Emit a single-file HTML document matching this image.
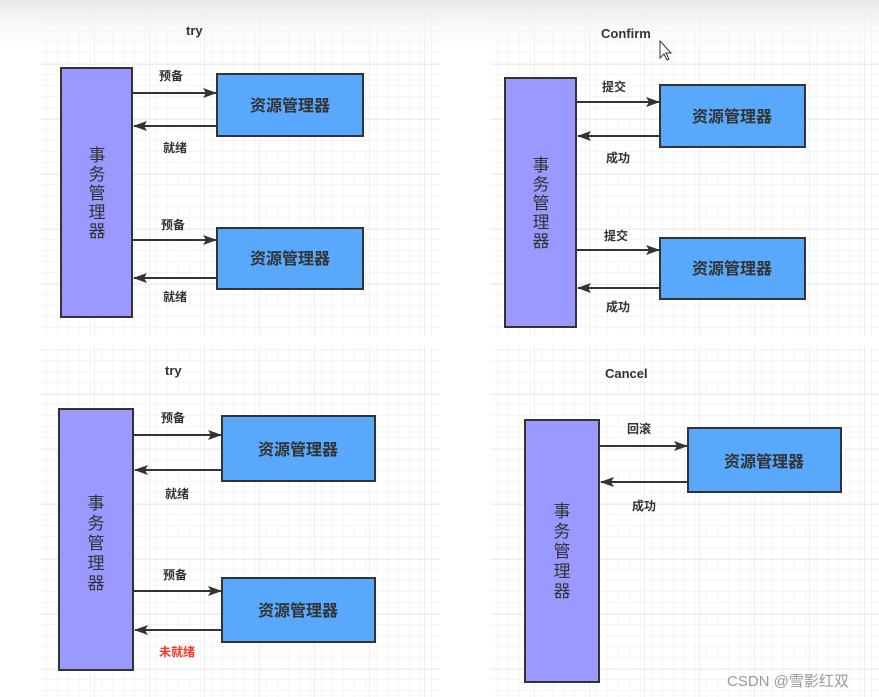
<!DOCTYPE html>
<html><head><meta charset="utf-8"><style>
html,body{margin:0;padding:0;width:879px;height:697px;overflow:hidden;background:#fff}
svg{display:block}
text{font-family:"Liberation Sans","Noto Sans CJK SC",sans-serif;fill:#333}
</style></head><body>
<svg width="879" height="697" viewBox="0 0 879 697" xmlns="http://www.w3.org/2000/svg">
<defs>
<pattern id="g" width="11" height="11" patternUnits="userSpaceOnUse" x="40" y="10">
<path d="M11 0V11M0 11H11" stroke="#ececec" stroke-width="1" fill="none"/>
</pattern>
<pattern id="G" width="55" height="55" patternUnits="userSpaceOnUse" x="40" y="10">
<rect width="55" height="55" fill="url(#g)"/>
<path d="M55 0V55M0 55H55" stroke="#dedede" stroke-width="1" fill="none"/>
</pattern>
<linearGradient id="top" x1="0" y1="0" x2="0" y2="1">
<stop offset="0" stop-color="#e8e8e8"/><stop offset="1" stop-color="#fff" stop-opacity="0"/>
</linearGradient>
<marker id="a" markerWidth="14" markerHeight="10" refX="13" refY="5" orient="auto" markerUnits="userSpaceOnUse">
<path d="M0 0L14 5L0 10L3 5Z" fill="#333"/>
</marker>
</defs>
<rect x="40" y="10" width="400" height="325" fill="url(#G)"/>
<rect x="490" y="10" width="389" height="325" fill="url(#G)"/>
<rect x="40" y="346" width="400" height="351" fill="url(#G)"/>
<rect x="490" y="346" width="389" height="351" fill="url(#G)"/>
<rect x="0" y="0" width="879" height="55" fill="url(#top)"/>

<g stroke="#333" stroke-width="2">
<rect x="61" y="68" width="71" height="249" fill="#9999ff"/>
<rect x="217" y="74" width="146" height="62" fill="#58a8fb"/>
<rect x="217" y="228" width="146" height="61" fill="#58a8fb"/>
<line x1="132" y1="93" x2="216" y2="93" marker-end="url(#a)"/>
<line x1="217" y1="126" x2="134" y2="126" marker-end="url(#a)"/>
<line x1="132" y1="240" x2="216" y2="240" marker-end="url(#a)"/>
<line x1="217" y1="278" x2="134" y2="278" marker-end="url(#a)"/>
<rect x="505" y="78" width="71" height="249" fill="#9999ff"/>
<rect x="660" y="85" width="145" height="62" fill="#58a8fb"/>
<rect x="660" y="238" width="145" height="61" fill="#58a8fb"/>
<line x1="576" y1="102" x2="659" y2="102" marker-end="url(#a)"/>
<line x1="660" y1="136" x2="578" y2="136" marker-end="url(#a)"/>
<line x1="576" y1="250" x2="659" y2="250" marker-end="url(#a)"/>
<line x1="660" y1="288" x2="578" y2="288" marker-end="url(#a)"/>
<rect x="59" y="409" width="74" height="261" fill="#9999ff"/>
<rect x="222" y="416" width="153" height="65" fill="#58a8fb"/>
<rect x="222" y="578" width="153" height="64" fill="#58a8fb"/>
<line x1="133" y1="435" x2="221" y2="435" marker-end="url(#a)"/>
<line x1="222" y1="470" x2="135" y2="470" marker-end="url(#a)"/>
<line x1="133" y1="591" x2="221" y2="591" marker-end="url(#a)"/>
<line x1="222" y1="630" x2="135" y2="630" marker-end="url(#a)"/>
<rect x="525" y="420" width="74" height="262" fill="#9999ff"/>
<rect x="688" y="428" width="153" height="64" fill="#58a8fb"/>
<line x1="599" y1="446" x2="687" y2="446" marker-end="url(#a)"/>
<line x1="688" y1="482" x2="601" y2="482" marker-end="url(#a)"/>
</g>

<g font-size="13" font-weight="bold">
<text x="186" y="35">try</text>
<text x="601" y="38">Confirm</text>
<text x="165" y="375">try</text>
<text x="605" y="378">Cancel</text>
</g>
<g font-size="12" font-weight="bold">
<text x="159" y="80">预备</text><text x="163" y="152">就绪</text>
<text x="161" y="229">预备</text><text x="163" y="301">就绪</text>
<text x="602" y="91">提交</text><text x="606" y="162">成功</text>
<text x="604" y="240">提交</text><text x="606" y="311">成功</text>
<text x="161" y="422">预备</text><text x="165" y="498">就绪</text>
<text x="163" y="579">预备</text><text x="159" y="656" style="fill:#ff3322">未就绪</text>
<text x="627" y="433">回滚</text><text x="632" y="510">成功</text>
</g>
<g font-size="16" text-anchor="middle" font-weight="bold">
<text x="290" y="111">资源管理器</text>
<text x="290" y="264">资源管理器</text>
<text x="732" y="122">资源管理器</text>
<text x="732" y="274">资源管理器</text>
<text x="298" y="455">资源管理器</text>
<text x="298" y="616">资源管理器</text>
<text x="764" y="467">资源管理器</text>
</g>
<g font-size="17" text-anchor="middle">
<text x="97" y="161">事</text><text x="97" y="180">务</text><text x="97" y="199">管</text><text x="97" y="218">理</text><text x="97" y="237">器</text>
<text x="541" y="171">事</text><text x="541" y="190">务</text><text x="541" y="209">管</text><text x="541" y="228">理</text><text x="541" y="247">器</text>
<text x="96" y="509">事</text><text x="96" y="529">务</text><text x="96" y="549">管</text><text x="96" y="569">理</text><text x="96" y="589">器</text>
<text x="562" y="517">事</text><text x="562" y="537">务</text><text x="562" y="557">管</text><text x="562" y="577">理</text><text x="562" y="597">器</text>
</g>
<text x="727" y="686" font-size="15" style="fill:#999">CSDN @雪影红双</text>
<path d="M660 41l0 17 4-4 3 6 2-1-3-6 5 0z" fill="#fff" stroke="#333" stroke-width="1"/>
</svg>
</body></html>
